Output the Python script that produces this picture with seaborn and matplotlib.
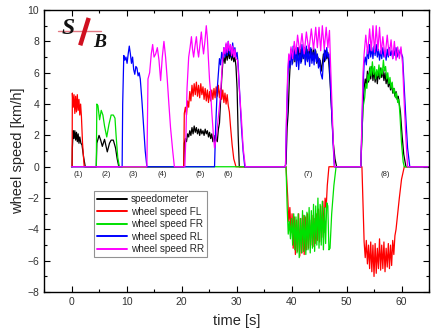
import matplotlib
matplotlib.use("Agg")
import matplotlib.pyplot as plt
from matplotlib.ticker import MultipleLocator
import seaborn as sns
import pandas as pd

# ---------------- data (time [s], wheel speed [km/h]) ----------------
speedometer = [
    (0, 0), (0.1, 0), (0.15, 1.2), (0.3, 2.3), (0.45, 1.8), (0.6, 2.3), (0.75, 1.7), (0.9, 2.2), (1.05, 1.6),
    (1.2, 2.1), (1.35, 1.5), (1.5, 1.9), (1.7, 1.5), (1.9, 1.4), (2.2, 0.6), (2.5, 0),
    (4.5, 0), (4.6, 1.5), (5.0, 2.0), (5.3, 1.7), (5.6, 1.3), (6.0, 1.75), (6.5, 0.95), (6.9, 1.5), (7.2, 1.7),
    (7.6, 1.7), (8.0, 1.2), (8.3, 0.5), (8.6, 0),
    (20.4, 0), (20.5, 1.5), (20.7, 1.8), (20.9, 1.6), (21.1, 2.1), (21.3, 1.9), (21.5, 2.3), (21.7, 2.0), (21.9, 2.5),
    (22.1, 2.1), (22.3, 2.6), (22.5, 2.2), (22.7, 2.5), (22.9, 2.1), (23.1, 2.4), (23.3, 2.0), (23.5, 2.4),
    (23.7, 2.1), (23.9, 2.3), (24.1, 2.0), (24.3, 2.4), (24.5, 2.1), (24.7, 2.3), (24.9, 1.9), (25.1, 2.2),
    (25.3, 1.8), (25.5, 2.1), (25.7, 1.6), (25.9, 2.0), (26.1, 1.5), (26.3, 1.9), (26.5, 1.6), (26.7, 2.4),
    (26.9, 2.8), (27.1, 4.2), (27.3, 5.6), (27.5, 6.6), (27.7, 7.0), (27.9, 6.6), (28.1, 7.3), (28.3, 6.8),
    (28.5, 7.4), (28.7, 6.9), (28.9, 7.3), (29.1, 6.8), (29.3, 7.2), (29.5, 6.7), (29.7, 7.0), (29.9, 6.4),
    (30.1, 5.0), (30.3, 2.0), (30.5, 0),
    (38.8, 0), (39.0, 0.2), (39.2, 2.5), (39.4, 3.5), (39.6, 5.5), (39.8, 6.8), (40.0, 7.4), (40.2, 6.6),
    (40.4, 7.6), (40.6, 6.7), (40.8, 7.5), (41.0, 6.8), (41.2, 7.6), (41.4, 6.9), (41.6, 7.5), (41.8, 6.7),
    (42.0, 7.4), (42.2, 6.9), (42.4, 7.6), (42.6, 6.8), (42.8, 7.5), (43.0, 6.9), (43.2, 7.7), (43.4, 7.0),
    (43.6, 7.5), (43.8, 6.8), (44.0, 7.6), (44.2, 6.9), (44.4, 7.4), (44.6, 6.6), (44.8, 7.0), (45.0, 6.4),
    (45.2, 6.8), (45.4, 6.1), (45.6, 6.6), (45.8, 7.2), (46.0, 6.7), (46.2, 7.4), (46.4, 6.9), (46.6, 7.3),
    (46.8, 6.5), (47.0, 5.5), (47.3, 3.5), (47.6, 1.5), (47.9, 0.5), (48.2, 0),
    (52.6, 0), (52.8, 2.0), (53.0, 4.0), (53.2, 5.0), (53.4, 5.6), (53.6, 5.2), (53.8, 6.1), (54.0, 5.4),
    (54.2, 6.3), (54.4, 5.6), (54.6, 6.4), (54.8, 5.5), (55.0, 6.2), (55.2, 5.4), (55.4, 6.0), (55.6, 5.3),
    (55.8, 6.1), (56.0, 5.6), (56.2, 6.3), (56.4, 5.7), (56.6, 6.2), (56.8, 5.5), (57.0, 6.0), (57.2, 5.3),
    (57.4, 5.8), (57.6, 5.1), (57.8, 5.5), (58.0, 4.9), (58.2, 5.3), (58.4, 4.7), (58.6, 5.0), (58.8, 4.5),
    (59.0, 4.8), (59.2, 4.3), (59.4, 4.5), (59.6, 4.0), (59.8, 3.5), (60.1, 2.0), (60.4, 0.8), (60.8, 0),
    (64.8, 0),
]

wheel_fl = [
    (0, 0), (0.1, 0), (0.15, 4.7), (0.3, 3.8), (0.45, 4.6), (0.6, 3.4), (0.75, 4.5), (0.9, 3.5), (1.05, 4.6),
    (1.2, 3.6), (1.35, 4.3), (1.5, 3.3), (1.65, 4.0), (1.8, 3.2), (2.0, 1.5), (2.3, 0),
    (20.4, 0), (20.5, 3.4), (20.7, 3.8), (20.9, 3.3), (21.1, 4.2), (21.3, 3.8), (21.5, 4.8), (21.7, 4.2),
    (21.9, 5.2), (22.1, 4.5), (22.3, 5.3), (22.5, 4.6), (22.7, 5.4), (22.9, 4.5), (23.1, 5.2), (23.3, 4.4),
    (23.5, 5.3), (23.7, 4.6), (23.9, 5.1), (24.1, 4.3), (24.3, 5.0), (24.5, 4.2), (24.7, 4.9), (24.9, 4.1),
    (25.1, 4.8), (25.3, 4.2), (25.5, 4.9), (25.7, 4.3), (25.9, 5.0), (26.1, 4.4), (26.3, 5.1), (26.5, 4.5),
    (26.7, 5.2), (26.9, 4.4), (27.1, 5.0), (27.3, 4.3), (27.5, 4.9), (27.7, 4.1), (27.9, 4.7), (28.1, 4.0),
    (28.3, 4.6), (28.5, 3.9), (28.7, 3.5), (28.9, 2.6), (29.2, 1.4), (29.5, 0.5), (29.9, 0),
    (39.0, 0), (39.3, -1.9), (39.5, -3.5), (39.7, -2.6), (39.9, -4.2), (40.1, -3.0), (40.3, -5.2), (40.5, -3.2),
    (40.7, -5.6), (40.9, -3.4), (41.1, -5.4), (41.3, -3.0), (41.5, -5.7), (41.7, -3.3), (41.9, -5.5),
    (42.1, -3.1), (42.3, -5.6), (42.5, -3.2), (42.7, -5.3), (42.9, -3.0), (43.1, -5.2), (43.3, -3.4),
    (43.5, -5.0), (43.7, -3.1), (43.9, -5.1), (44.1, -3.3), (44.3, -4.9), (44.5, -3.0), (44.7, -4.7),
    (44.9, -2.7), (45.1, -4.8), (45.3, -2.5), (45.5, -4.5), (45.7, -2.2), (45.9, -4.2), (46.1, -2.0),
    (46.3, -2.6), (46.5, -1.2), (46.8, 0),
    (52.8, 0), (53.0, -2.5), (53.2, -4.8), (53.4, -5.8), (53.6, -4.7), (53.8, -6.2), (54.0, -5.0), (54.2, -6.5),
    (54.4, -4.8), (54.6, -6.7), (54.8, -5.0), (55.0, -7.0), (55.2, -4.9), (55.4, -6.8), (55.6, -5.2),
    (55.8, -6.5), (56.0, -4.6), (56.2, -6.6), (56.4, -5.0), (56.6, -6.5), (56.8, -4.8), (57.0, -6.7),
    (57.2, -5.2), (57.4, -6.4), (57.6, -4.9), (57.8, -6.5), (58.0, -5.0), (58.2, -6.3), (58.4, -4.7),
    (58.6, -5.6), (58.8, -4.4), (59.0, -4.0), (59.3, -3.0), (59.6, -2.0), (60.0, -0.8), (60.5, 0),
    (64.8, 0),
]

wheel_fr = [
    (0, 0), (4.5, 0), (4.6, 4.0), (4.8, 3.9), (5.1, 3.0), (5.4, 3.6), (5.7, 3.3), (6.0, 2.6), (6.4, 1.9),
    (6.8, 2.7), (7.2, 3.3), (7.6, 3.3), (7.9, 3.1), (8.1, 2.0), (8.4, 0.6), (8.7, 0),
    (39.0, 0), (39.2, -2.5), (39.4, -4.3), (39.6, -3.5), (39.8, -4.6), (40.0, -3.3), (40.2, -5.0), (40.4, -3.0),
    (40.6, -5.3), (40.8, -3.2), (41.0, -5.5), (41.2, -3.0), (41.4, -5.8), (41.6, -3.3), (41.8, -5.5),
    (42.0, -2.8), (42.2, -5.4), (42.4, -3.1), (42.6, -5.6), (42.8, -2.9), (43.0, -5.3), (43.2, -2.6),
    (43.4, -5.5), (43.6, -2.8), (43.8, -5.2), (44.0, -2.4), (44.2, -5.4), (44.4, -2.5), (44.6, -5.0),
    (44.8, -2.0), (45.0, -5.2), (45.2, -2.4), (45.4, -5.0), (45.6, -2.2), (45.8, -5.3), (46.0, -2.6),
    (46.2, -4.9), (46.4, -2.3), (46.6, -2.5), (46.8, -5.3), (47.0, -5.2), (47.3, -3.0), (47.7, -1.2), (48.1, 0),
    (52.6, 0), (52.8, 2.0), (53.0, 3.8), (53.3, 4.4), (53.5, 5.3), (53.7, 5.0), (53.9, 5.9), (54.1, 5.5),
    (54.3, 6.4), (54.5, 5.8), (54.7, 6.7), (54.9, 5.9), (55.1, 6.4), (55.3, 5.6), (55.5, 6.2), (55.7, 5.8),
    (55.9, 6.5), (56.1, 5.7), (56.3, 6.3), (56.5, 5.9), (56.7, 6.8), (56.9, 6.1), (57.1, 6.4), (57.3, 5.6),
    (57.5, 6.0), (57.7, 5.3), (57.9, 5.7), (58.1, 5.0), (58.3, 5.4), (58.5, 4.7), (58.7, 5.0), (58.9, 4.4),
    (59.1, 4.7), (59.3, 4.1), (59.5, 4.3), (59.7, 3.4), (60.0, 1.5), (60.3, 0.3), (60.5, 0),
    (64.8, 0),
]

wheel_rl = [
    (0, 0), (9.2, 0), (9.3, 4.0), (9.5, 7.1), (9.7, 6.8), (9.9, 7.0), (10.1, 6.6), (10.3, 7.2), (10.5, 7.7),
    (10.7, 7.2), (10.9, 6.6), (11.1, 7.0), (11.3, 6.2), (11.5, 5.9), (11.7, 6.4), (11.9, 6.3), (12.1, 5.8),
    (12.3, 6.0), (12.5, 5.6), (12.8, 4.2), (13.1, 2.6), (13.4, 1.0), (13.7, 0),
    (26.0, 0), (26.2, 2.5), (26.5, 5.0), (26.7, 6.0), (26.9, 6.9), (27.1, 6.5), (27.3, 7.3), (27.5, 6.8),
    (27.7, 7.6), (27.9, 7.0), (28.1, 7.8), (28.3, 7.1), (28.5, 8.0), (28.7, 7.2), (28.9, 7.7), (29.1, 7.0),
    (29.3, 7.9), (29.5, 7.1), (29.7, 7.6), (29.9, 7.0), (30.1, 7.3), (30.3, 6.5), (30.6, 4.5), (30.9, 2.5),
    (31.2, 1.0), (31.5, 0),
    (38.9, 0), (39.1, 3.0), (39.3, 5.5), (39.5, 6.9), (39.7, 6.3), (39.9, 7.5), (40.1, 6.5), (40.3, 7.7),
    (40.5, 6.8), (40.7, 7.5), (40.9, 6.4), (41.1, 7.6), (41.3, 6.2), (41.5, 7.3), (41.7, 6.6), (41.9, 7.8),
    (42.1, 6.9), (42.3, 7.5), (42.5, 6.5), (42.7, 7.7), (42.9, 6.7), (43.1, 7.4), (43.3, 6.4), (43.5, 7.6),
    (43.7, 6.6), (43.9, 7.3), (44.1, 6.5), (44.3, 7.5), (44.5, 6.7), (44.7, 7.2), (44.9, 6.3), (45.1, 6.9),
    (45.3, 6.0), (45.6, 5.6), (45.8, 6.8), (46.0, 7.5), (46.2, 6.8), (46.4, 7.6), (46.6, 7.0), (46.8, 7.2),
    (47.0, 5.8), (47.3, 3.5), (47.6, 1.2), (47.8, 0),
    (52.6, 0), (52.8, 2.5), (53.0, 5.0), (53.2, 6.6), (53.4, 7.0), (53.6, 6.5), (53.8, 7.5), (54.0, 6.9),
    (54.2, 7.8), (54.4, 7.0), (54.6, 7.6), (54.8, 6.9), (55.0, 7.7), (55.2, 7.1), (55.4, 7.8), (55.6, 7.0),
    (55.8, 7.5), (56.0, 6.8), (56.2, 7.4), (56.4, 6.9), (56.6, 7.6), (56.8, 7.0), (57.0, 7.3), (57.2, 6.8),
    (57.4, 7.5), (57.6, 7.0), (57.8, 7.6), (58.0, 7.1), (58.2, 7.4), (58.4, 6.9), (58.6, 7.5), (58.8, 7.1),
    (59.0, 7.6), (59.2, 7.0), (59.4, 7.4), (59.6, 7.1), (59.8, 7.5), (60.0, 7.2), (60.2, 7.0), (60.5, 5.0),
    (60.8, 3.0), (61.1, 1.2), (61.5, 0),
    (64.8, 0),
]

wheel_rr = [
    (0, 0), (13.7, 0), (13.9, 5.6), (14.2, 6.0), (14.5, 7.2), (14.75, 7.8), (15.0, 7.0), (15.3, 7.2),
    (15.6, 7.6), (15.9, 6.8), (16.2, 5.5), (16.5, 7.0), (16.8, 8.0), (17.1, 7.0), (17.4, 5.6), (17.7, 4.0),
    (18.0, 2.5), (18.4, 1.0), (18.7, 0),
    (20.6, 0), (20.8, 2.0), (21.0, 5.0), (21.3, 7.0), (21.55, 7.6), (21.8, 8.3), (22.0, 7.5), (22.2, 7.0),
    (22.45, 7.7), (22.7, 8.3), (22.9, 7.5), (23.1, 7.0), (23.35, 7.8), (23.6, 8.6), (23.8, 7.8), (24.0, 7.2),
    (24.25, 8.0), (24.5, 9.0), (24.7, 8.2), (24.9, 6.8), (25.1, 5.5), (25.3, 4.7), (25.5, 3.5), (25.8, 2.0),
    (26.0, 1.2), (26.3, 1.8), (26.7, 3.2), (27.1, 4.6), (27.4, 6.5), (27.7, 7.6), (27.9, 7.2), (28.1, 7.9),
    (28.3, 7.3), (28.5, 8.0), (28.7, 7.4), (28.9, 7.8), (29.1, 7.1), (29.3, 7.7), (29.5, 7.0), (29.7, 7.5),
    (29.9, 6.9), (30.2, 6.8), (30.5, 5.0), (30.9, 3.0), (31.2, 1.2), (31.6, 0),
    (38.9, 0), (39.1, 3.5), (39.3, 6.0), (39.5, 7.2), (39.7, 6.8), (39.9, 7.65), (40.2, 6.9), (40.5, 8.0),
    (40.8, 7.2), (41.1, 8.4), (41.5, 7.3), (41.9, 8.5), (42.3, 7.2), (42.7, 8.6), (43.15, 7.4), (43.6, 8.8),
    (44.0, 7.5), (44.4, 8.9), (44.7, 7.6), (45.0, 8.9), (45.3, 7.4), (45.6, 9.0), (45.95, 7.5), (46.3, 8.9),
    (46.6, 7.6), (46.9, 8.7), (47.1, 6.5), (47.4, 3.5), (47.6, 1.5), (47.8, 0),
    (52.6, 0), (52.8, 3.0), (53.0, 6.0), (53.2, 7.2), (53.5, 8.4), (53.85, 7.2), (54.2, 8.8), (54.5, 7.4),
    (54.8, 9.0), (55.1, 7.3), (55.4, 9.0), (55.7, 7.4), (56.0, 8.9), (56.3, 7.2), (56.6, 8.3), (57.0, 7.0),
    (57.4, 8.4), (57.75, 7.1), (58.1, 8.1), (58.4, 6.9), (58.7, 8.0), (59.0, 6.8), (59.3, 7.65), (59.6, 6.9),
    (59.9, 7.65), (60.2, 6.5), (60.5, 4.0), (60.8, 1.8), (61.1, 0),
    (64.8, 0),
]

series_names = ["speedometer", "wheel speed FL", "wheel speed FR", "wheel speed RL", "wheel speed RR"]
series_colors = ["#000000", "#ff0000", "#00e000", "#0000ff", "#ff00ff"]
segment_labels = ["(1)", "(2)", "(3)", "(4)", "(5)", "(6)", "(7)", "(8)"]
segment_label_t = [1.3, 6.3, 11.3, 16.4, 23.4, 28.5, 43.0, 57.1]
segment_label_v = -0.5

# ---------------- build long table ----------------
rows = []
for name, pts in zip(series_names, [speedometer, wheel_fl, wheel_fr, wheel_rl, wheel_rr]):
    for i, (t, v) in enumerate(pts):
        rows.append({"series": name, "order": i, "t": t, "v": v})
df = pd.DataFrame(rows)

# ---------------- figure ----------------
sns.set_style("ticks")
plt.rcParams["font.family"] = ["Liberation Sans", "DejaVu Sans"]

fig = plt.figure(figsize=(4.36, 3.35), dpi=100)
ax = fig.add_axes([0.101, 0.128, 0.883, 0.842])

sns.lineplot(data=df, x="t", y="v", hue="series", hue_order=series_names,
             palette=dict(zip(series_names, series_colors)), sort=False,
             estimator=None, units="series", linewidth=0.9, ax=ax)

ax.set_xlim(-5, 65)
ax.set_ylim(-8, 10)
ax.xaxis.set_major_locator(MultipleLocator(10))
ax.xaxis.set_minor_locator(MultipleLocator(5))
ax.yaxis.set_major_locator(MultipleLocator(2))
ax.yaxis.set_minor_locator(MultipleLocator(1))
ax.tick_params(which="both", direction="in", top=True, right=True, labeltop=False, labelright=False,
               width=0.8, colors="#000000", labelcolor="#333333", labelsize=7.5)
ax.tick_params(which="major", length=4)
ax.tick_params(which="minor", length=2.5)
for sp in ax.spines.values():
    sp.set_linewidth(1.0)
    sp.set_color("#000000")

ax.set_xlabel("time [s]", fontsize=10.5, labelpad=5)
ax.set_ylabel("wheel speed [km/h]", fontsize=10.5, labelpad=2)

for lab, t in zip(segment_labels, segment_label_t):
    ax.text(t, segment_label_v, lab, fontsize=5.5, ha="center", va="center", color="#222222")

handles, labels = ax.get_legend_handles_labels()
leg = ax.legend(handles, labels, loc="upper left", bbox_to_anchor=(0.13, 0.358), fontsize=7.2,
                frameon=True, fancybox=False, edgecolor="#777777", handlelength=3.0,
                handletextpad=0.4, borderpad=0.3, labelspacing=0.25, borderaxespad=0)
leg.get_frame().set_linewidth(0.8)
for ln in leg.get_lines():
    ln.set_linewidth(1.4)

# logo "S/B"
ax.plot([0.036, 0.148], [0.925, 0.925], transform=ax.transAxes, color="#d02030", lw=1.0, alpha=0.6)
ax.text(0.062, 0.935, "S", transform=ax.transAxes, fontsize=17, fontstyle="italic", fontweight="bold",
        family="Liberation Serif", ha="center", va="center", color="#111111")
ax.plot([0.094, 0.116], [0.875, 0.972], transform=ax.transAxes, color="#d01020", lw=3.2,
        solid_capstyle="butt")
ax.text(0.145, 0.884, "B", transform=ax.transAxes, fontsize=14, fontstyle="italic", fontweight="bold",
        family="Liberation Serif", ha="center", va="center", color="#111111")

fig.savefig("out.png", dpi=100)
